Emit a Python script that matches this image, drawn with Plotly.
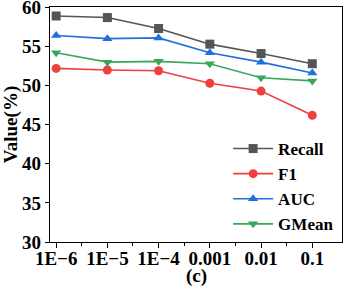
import plotly.graph_objects as go

categories = ["1E\u22126", "1E\u22125", "1E\u22124", "0.001", "0.01", "0.1"]
recall = [58.9, 58.7, 57.3, 55.3, 54.1, 52.8]
f1 = [52.2, 52.0, 51.9, 50.3, 49.3, 46.2]
auc = [56.4, 56.0, 56.1, 54.2, 53.0, 51.6]
gmean = [54.2, 53.0, 53.1, 52.8, 51.0, 50.6]

series = [
    ("Recall", recall, "#555555", "square"),
    ("F1", f1, "#EF4040", "circle"),
    ("AUC", auc, "#1F6FE0", "triangle-up"),
    ("GMean", gmean, "#35A85A", "triangle-down"),
]

xs = list(range(len(categories)))
fig = go.Figure()
for name, vals, color, sym in series:
    fig.add_trace(go.Scatter(
        x=xs, y=vals, name=name, mode="lines+markers",
        line=dict(color=color, width=1.6),
        marker=dict(symbol=sym, size=9, color=color),
    ))

font_family = "Liberation Serif, Times New Roman, serif"
bold = dict(family=font_family, size=19, color="black", weight="bold")
fig.update_layout(
    width=346, height=289,
    margin=dict(l=50, r=4, t=7, b=47, autoexpand=False),
    paper_bgcolor="white", plot_bgcolor="white",
    font=dict(family=font_family, size=19, color="black"),
    showlegend=True,
    legend=dict(
        x=0.61, y=0.0, xanchor="left", yanchor="bottom",
        bgcolor="rgba(0,0,0,0)", borderwidth=0,
        font=dict(family=font_family, size=17, color="black", weight="bold"),
        tracegroupgap=0, itemwidth=40,
    ),
    xaxis=dict(
        tickmode="array", tickvals=xs, ticktext=categories,
        range=[-0.12, 5.58],
        showgrid=False, zeroline=False,
        showline=True, linecolor="black", linewidth=1.2, mirror=True,
        ticks="outside", ticklen=5, tickwidth=1.2, tickcolor="black",
        minor=dict(tickvals=[0.5, 1.5, 2.5, 3.5, 4.5], ticks="outside", ticklen=3, tickwidth=1, tickcolor="black"),
        tickfont=bold, ticklabelstandoff=-6, ticklabeloverflow="allow",
        automargin=False,
    ),
    yaxis=dict(
        range=[30, 60.05], tickvals=[30, 35, 40, 45, 50, 55, 60],
        showgrid=False, zeroline=False,
        showline=True, linecolor="black", linewidth=1.2, mirror=True,
        ticks="outside", ticklen=4, tickwidth=1.2, tickcolor="black",
        tickfont=bold, ticklabeloverflow="allow",
        automargin=False,
        title=dict(text="Value(%)", font=bold, standoff=2),
    ),
    annotations=[dict(
        text="(c)", x=0.5, y=0, xref="paper", yref="paper",
        xanchor="center", yanchor="middle", yshift=-34, showarrow=False,
        font=bold,
    )],
)

fig.write_html("out.html", config={"displayModeBar": False},
               post_script="document.body.style.margin='0';document.body.style.overflow='hidden';")
